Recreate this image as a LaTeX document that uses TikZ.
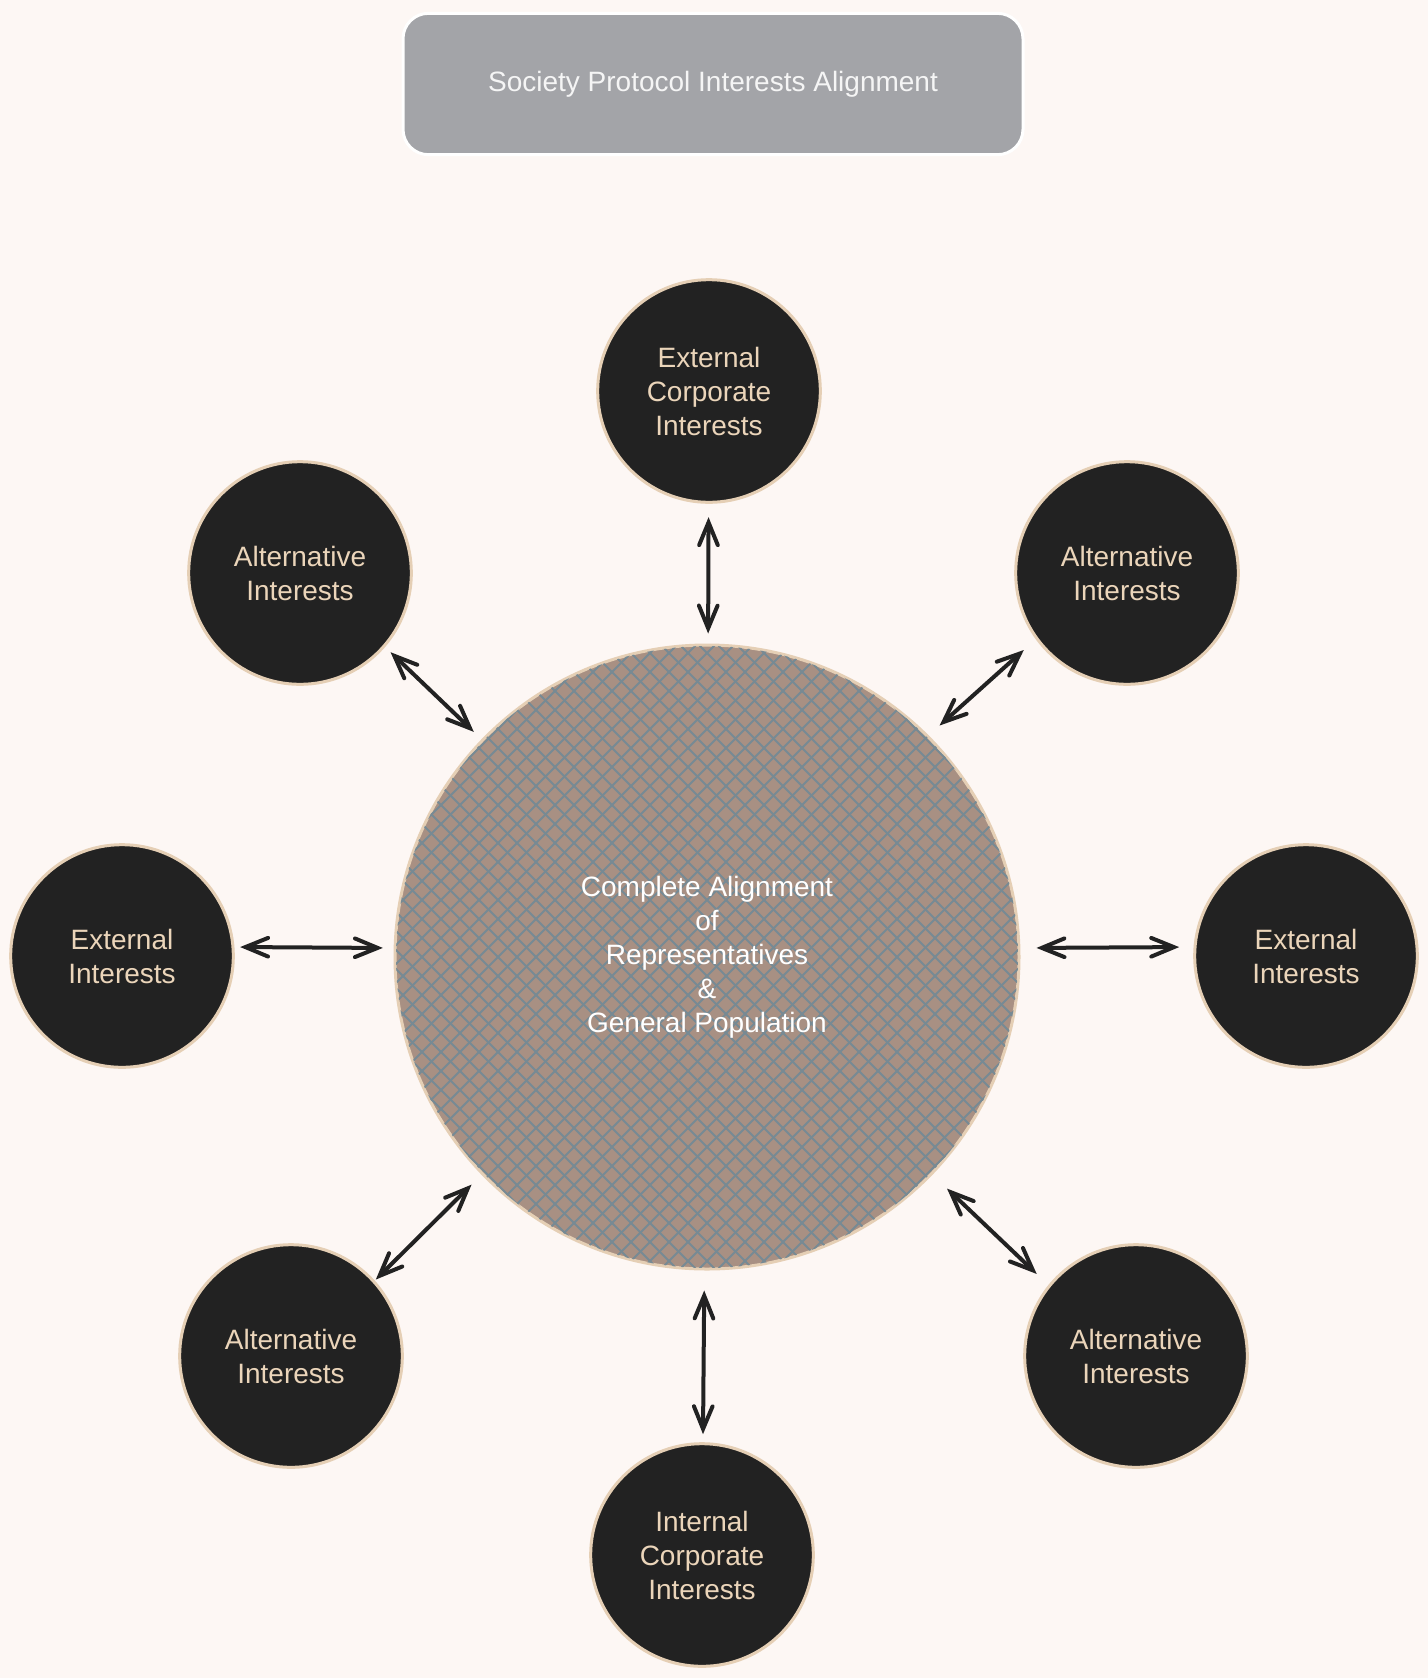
\documentclass[tikz,border=0pt]{standalone}
\usepackage{fontspec}
\setmainfont{Liberation Sans}
\usetikzlibrary{arrows.meta}
\definecolor{bg}{HTML}{FDF7F4}
\definecolor{dark}{HTML}{222222}
\definecolor{beige}{HTML}{E5CFB5}
\definecolor{beigetext}{HTML}{EBD5BA}
\definecolor{titlefill}{HTML}{A3A4A8}
\definecolor{hubfill}{HTML}{A89083}
\definecolor{hatchcol}{HTML}{778A94}
\tikzset{
  outer/.style={circle, fill=dark, draw=beige, line width=2.25pt, minimum size=167pt,
    inner sep=0pt, align=center, text=beigetext, font=\fontsize{21}{25.5}\selectfont},
  hub/.style={circle, fill=hubfill, draw=beige, line width=2.25pt, minimum size=468pt,
    inner sep=0pt},
  hubtext/.style={inner sep=0pt, align=center, text=white, font=\fontsize{21}{25.5}\selectfont},
  titlebox/.style={rectangle, rounded corners=19pt, fill=titlefill, draw=white, line width=2.25pt,
    minimum width=465pt, minimum height=106pt, text=white!96!black, font=\fontsize{21}{25.5}\selectfont},
  hatch/.style={draw=hatchcol, line width=1.5pt},
  biarr/.style={draw=dark, line width=3pt, line cap=round,
    {Straight Barb[length=17pt,width=14pt,line cap=round]}-{Straight Barb[length=17pt,width=14pt,line cap=round]}}
}
\begin{document}
\begin{tikzpicture}[x=0.75pt,y=-0.75pt]
\fill[bg] (0,0) rectangle (1428,1678);
\useasboundingbox (0,0) rectangle (1428,1678);
\node[titlebox] (title) at (713,84) {Society Protocol Interests Alignment};
\node[hub] (c) at (707,957) {};
\begin{scope}
  \clip (707,957) circle[radius=311];
  \foreach \i in {-36,...,36} {
    \draw[hatch] (707+19*\i-330,957-330) -- (707+19*\i+330,957+330);
    \draw[hatch] (707+19*\i-330,957+330) -- (707+19*\i+330,957-330);
  }
\end{scope}
\node[hubtext] (ctext) at (c.center) {Complete Alignment\\of\\Representatives\\\&\\General Population};
\node[outer] (t) at (709,391) {External\\Corporate\\Interests};
\node[outer] (ul) at (300,573) {Alternative\\Interests};
\node[outer] (ur) at (1127,573) {Alternative\\Interests};
\node[outer] (l) at (122,956) {External\\Interests};
\node[outer] (r) at (1306,956) {External\\Interests};
\node[outer] (ll) at (291,1356) {Alternative\\Interests};
\node[outer] (lr) at (1136,1356) {Alternative\\Interests};
\node[outer] (b) at (702,1555) {Internal\\Corporate\\Interests};
\draw[biarr, shorten <=7.5pt, shorten >=10pt] (c) -- (t);
\draw[biarr, shorten <=8pt, shorten >=5.6pt] (c.136) -- (ul.-41);
\draw[biarr, shorten <=11pt, shorten >=12pt] (c.45) -- (ur.216);
\draw[biarr, shorten <=8pt, shorten >=4pt] ([yshift=6.75pt]c.west) -- ([yshift=6.75pt]l.east);
\draw[biarr, shorten <=12pt, shorten >=10.5pt] ([yshift=6.75pt]c.east) -- ([yshift=6.75pt]r.west);
\draw[biarr, shorten <=10.5pt, shorten >=1pt] (c.224) -- (ll.42);
\draw[biarr, shorten <=15pt, shorten >=12pt] (c.-44.5) -- (lr.141);
\draw[biarr, shorten <=15pt, shorten >=6pt] (c) -- (b);
\end{tikzpicture}
\end{document}
